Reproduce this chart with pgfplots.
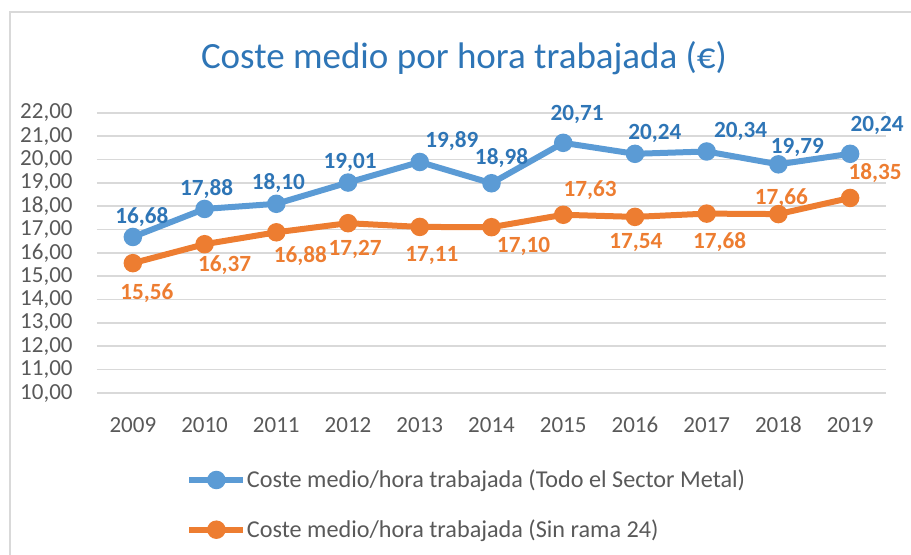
\documentclass[border=0pt]{standalone}
\usepackage{pgfplots}
\pgfplotsset{compat=1.18}
\usepackage{pgfplotstable}
\usepackage{fontspec}
\setmainfont{Carlito}

\definecolor{serieA}{HTML}{5B9BD5}
\definecolor{serieB}{HTML}{ED7D31}
\definecolor{labA}{HTML}{2E75B6}
\definecolor{titulo}{HTML}{2E75B6}
\definecolor{rejilla}{HTML}{D9D9D9}
\definecolor{textogris}{HTML}{595959}

% x, valor, desplazamiento de la etiqueta en px (dx a la derecha, dy hacia arriba)
\pgfplotstableread{
x    y      dx  dy
2009 16.68  9   20
2010 17.88  2   20
2011 18.10  2   21
2012 19.01  2   20
2013 19.89  32  21
2014 18.98  10  25
2015 20.71  14  28
2016 20.24  20  20
2017 20.34  34  20
2018 19.79  19  17
2019 20.24  27  28
}\metal

\pgfplotstableread{
x    y      dx  dy
2009 15.56  14  -30
2010 16.37  20  -21
2011 16.88  24  -24
2012 17.27  7   -26
2013 17.11  12  -29
2014 17.10  32  -19
2015 17.63  27  25
2016 17.54  1   -26
2017 17.68  13  -28
2018 17.66  3   16
2019 18.35  25  25
}\sinrama

\begin{document}
\begin{tikzpicture}[x=0.5pt, y=0.5pt]
  \path[use as bounding box] (0,0) rectangle (911,554);
  % marco del grafico
  \draw[rejilla, line width=0.6pt] (10,-5) -- (10,542) -- (920,542);

  \node[text=titulo, font=\fontsize{18.5}{22}\selectfont] at (464,496)
    {Coste medio por hora trabajada (€)};

  \begin{axis}[
    at={(48.5pt,80.5pt)}, anchor=south west,
    scale only axis,
    width=394.5pt, height=140.15pt,
    xmin=2008.5, xmax=2019.5,
    ymin=10, ymax=22,
    xtick={2009,2010,...,2019},
    ytick={10,11,...,22},
    axis x line*=bottom,
    axis y line*=left,
    x axis line style={draw=rejilla, line width=1.1pt, -},
    y axis line style={draw=none},
    major tick length=0pt,
    ymajorgrids,
    major grid style={draw=rejilla, line width=0.8pt},
    clip=false,
    font=\fontsize{11.5}{13}\selectfont,
    tick label style={text=textogris, inner sep=0pt},
    /pgf/number format/assume math mode=true,
    x tick label style={anchor=center, yshift=-16pt,
      /pgf/number format/.cd, 1000 sep={}},
    y tick label style={anchor=east, xshift=-12pt,
      /pgf/number format/.cd, fixed, fixed zerofill, precision=2, use comma},
    nodes near coords={\pgfmathprintnumber[fixed,fixed zerofill,precision=2,use comma,assume math mode=true]{\pgfplotspointmeta}},
    visualization depends on={\thisrow{dx} \as \dx},
    visualization depends on={\thisrow{dy} \as \dy},
    legend image code/.code={%
      \draw[mark repeat=2,mark phase=2,#1]
        plot coordinates {(0pt,0pt) (13.5pt,0pt) (27pt,0pt)};},
    legend style={
      at={(0.1128,-0.272)}, anchor=north west,
      draw=none, fill=none, inner sep=0pt,
      row sep=14.5pt,
      font=\fontsize{12.1}{14}\selectfont,
      text=textogris,
      nodes={inner xsep=0.3pt, inner ysep=0pt},
    },
    legend cell align=left,
  ]

  \addplot[serieA, line width=3pt, mark=*, mark size=3.1pt,
    every node near coord/.append style={anchor=center,
      xshift=\dx*0.5pt, yshift=\dy*0.5pt,
      text=labA, font=\bfseries\fontsize{11.6}{13}\selectfont}]
    table[x=x, y=y] {\metal};
  \addlegendentry{Coste medio/hora trabajada (Todo el Sector Metal)}

  \addplot[serieB, line width=3pt, mark=*, mark size=3.1pt,
    every node near coord/.append style={anchor=center,
      xshift=\dx*0.5pt, yshift=\dy*0.5pt,
      text=serieB, font=\bfseries\fontsize{11.6}{13}\selectfont}]
    table[x=x, y=y] {\sinrama};
  \addlegendentry{Coste medio/hora trabajada (Sin rama 24)}

  \end{axis}
\end{tikzpicture}
\end{document}
